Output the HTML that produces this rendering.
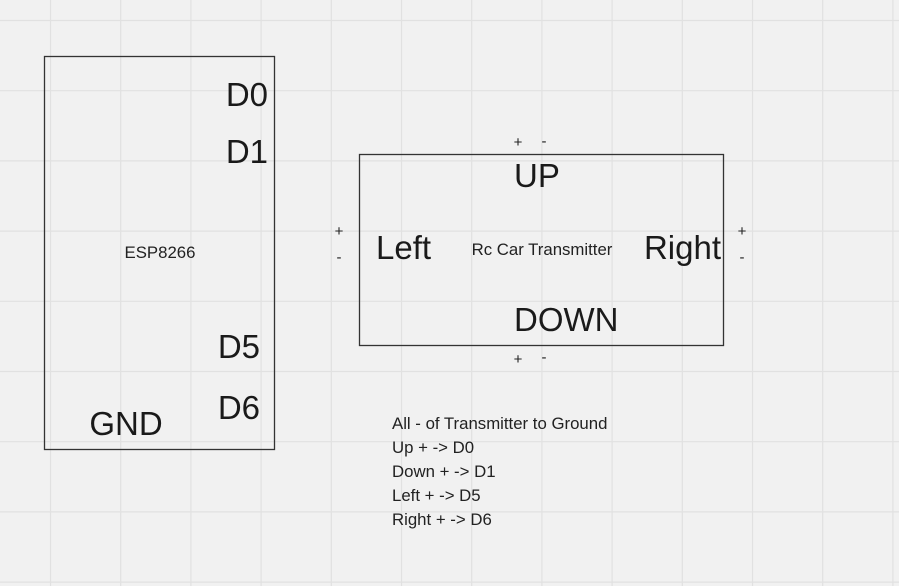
<!DOCTYPE html>
<html><head><meta charset="utf-8"><style>
html,body{margin:0;padding:0;background:#f1f1f1;}
svg{display:block;font-family:"Liberation Sans",sans-serif;}
</style></head><body>
<svg width="899" height="586" viewBox="0 0 899 586">
<rect width="899" height="586" fill="#f1f1f1"/>
<g id="grid" stroke="#e1e1e1" stroke-width="1.2"></g>
<g>
<rect x="44.5" y="56.5" width="230" height="393" fill="none" stroke="#333" stroke-width="1.3"/>
<text x="160" y="258" font-size="16.8" text-anchor="middle" fill="#222">ESP8266</text>
<text x="268" y="106" font-size="33" text-anchor="end" fill="#1a1a1a">D0</text>
<text x="268" y="163" font-size="33" text-anchor="end" fill="#1a1a1a">D1</text>
<text x="260" y="358" font-size="33" text-anchor="end" fill="#1a1a1a">D5</text>
<text x="260" y="419" font-size="33" text-anchor="end" fill="#1a1a1a">D6</text>
<text x="126" y="435" font-size="33" text-anchor="middle" fill="#1a1a1a">GND</text>
</g>
<g>
<rect x="359.5" y="154.5" width="364" height="191" fill="none" stroke="#333" stroke-width="1.3"/>
<text x="542" y="255" font-size="16.8" text-anchor="middle" fill="#222">Rc Car Transmitter</text>
<text x="514" y="187" font-size="33" fill="#1a1a1a">UP</text>
<text x="514" y="331" font-size="33" fill="#1a1a1a">DOWN</text>
<text x="376" y="259" font-size="33" fill="#1a1a1a">Left</text>
<text x="721" y="259" font-size="33" text-anchor="end" fill="#1a1a1a">Right</text>
<g font-size="15" fill="#222" text-anchor="middle">
<text x="518" y="147">+</text><text x="544" y="146">-</text>
<text x="518" y="364">+</text><text x="544" y="362">-</text>
<text x="339" y="236">+</text><text x="339" y="262">-</text>
<text x="742" y="236">+</text><text x="742" y="262">-</text>
</g>
</g>
<g font-size="16.8" fill="#222">
<text x="392" y="429">All - of Transmitter to Ground</text>
<text x="392" y="453">Up + -&gt; D0</text>
<text x="392" y="477">Down + -&gt; D1</text>
<text x="392" y="501">Left + -&gt; D5</text>
<text x="392" y="525">Right + -&gt; D6</text>
</g>
</svg>
<script>
var g=document.getElementById('grid');
var ns='http://www.w3.org/2000/svg';
for(var x=50.5;x<899;x+=70.2){var l=document.createElementNS(ns,'line');l.setAttribute('x1',x);l.setAttribute('x2',x);l.setAttribute('y1',0);l.setAttribute('y2',586);


g.appendChild(l);}
for(var y=20.5;y<586;y+=70.2){var l=document.createElementNS(ns,'line');l.setAttribute('y1',y);l.setAttribute('y2',y);l.setAttribute('x1',0);l.setAttribute('x2',899);


g.appendChild(l);}
</script>
</body></html>
